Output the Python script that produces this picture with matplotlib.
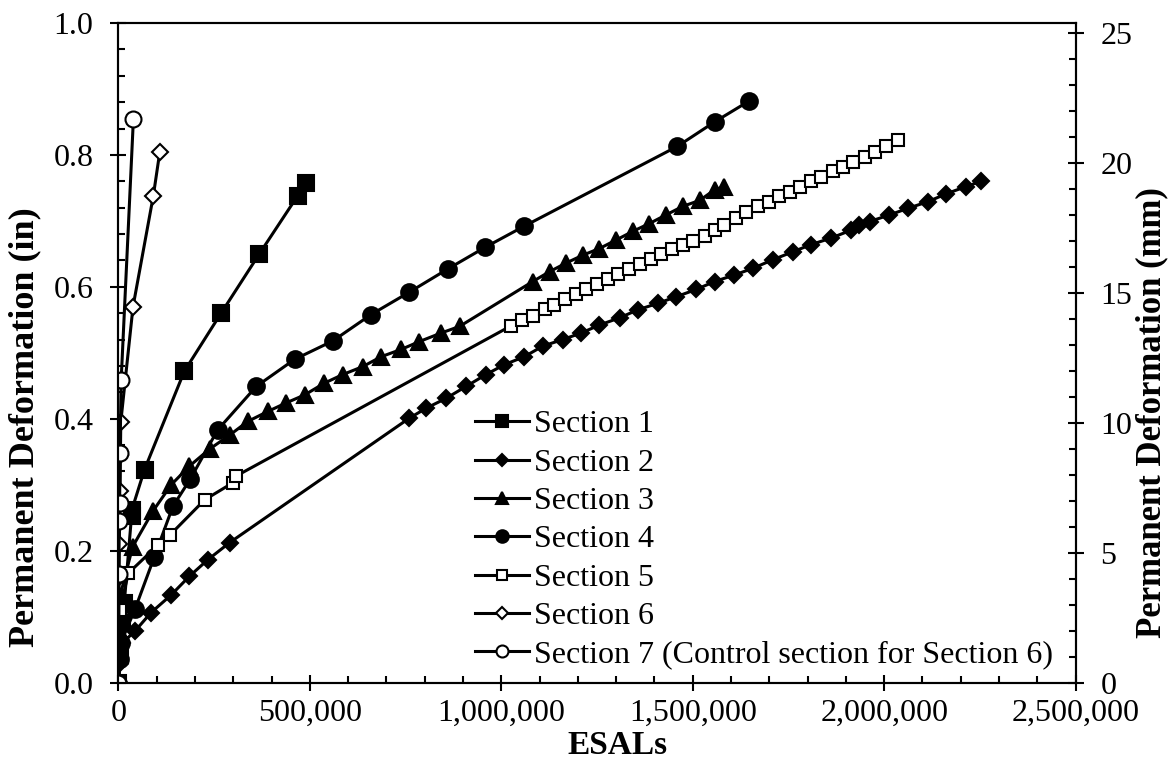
import numpy as np
import matplotlib.pyplot as plt
from matplotlib.ticker import MultipleLocator, FuncFormatter

plt.rcParams['font.family'] = ['Liberation Serif', 'DejaVu Serif']

# ESALs in thousands, deformation in inches
s1_x = [0, 3, 8, 15, 34, 35, 68, 172, 268, 368, 468, 490]
s1_y = [0, 0.05, 0.09, 0.12, 0.252, 0.262, 0.323, 0.472, 0.560, 0.650, 0.738, 0.757]

s2_x = [0, 4, 10, 43, 85, 138, 185, 233, 290,
        760, 804, 856, 908, 960, 1008, 1060, 1108, 1160, 1209, 1256, 1309,
        1356, 1409, 1457, 1509, 1557, 1609, 1657, 1709, 1761, 1809, 1862,
        1914, 1935, 1962, 2014, 2062, 2114, 2162, 2214, 2253]
s2_y = [0, 0.03, 0.06, 0.078, 0.106, 0.133, 0.161, 0.186, 0.212,
        0.401, 0.416, 0.431, 0.449, 0.467, 0.482, 0.494, 0.510, 0.520, 0.530, 0.542, 0.553,
        0.565, 0.575, 0.585, 0.596, 0.608, 0.618, 0.628, 0.641, 0.653, 0.664, 0.674,
        0.686, 0.694, 0.699, 0.709, 0.719, 0.729, 0.741, 0.752, 0.760]

s3_x = [0, 1, 2.5, 4, 37, 90, 138, 185, 238, 290, 338, 390, 438, 486, 538, 586,
        638, 686, 738, 786, 843, 891, 1082, 1126, 1169, 1213, 1256, 1300, 1343,
        1387, 1430, 1474, 1518, 1557, 1583]
s3_y = [0, 0.04, 0.08, 0.131, 0.206, 0.260, 0.300, 0.328, 0.354, 0.375, 0.396, 0.411,
        0.424, 0.436, 0.454, 0.467, 0.479, 0.494, 0.505, 0.517, 0.530, 0.540, 0.608,
        0.623, 0.636, 0.648, 0.658, 0.671, 0.684, 0.696, 0.709, 0.722, 0.731, 0.747, 0.752]

s4_x = [0, 3, 6, 43, 94, 142, 187, 259, 360, 460, 560, 660, 760, 860, 958, 1060,
        1460, 1557, 1648]
s4_y = [0, 0.035, 0.06, 0.111, 0.191, 0.267, 0.308, 0.383, 0.449, 0.490, 0.518,
        0.558, 0.592, 0.627, 0.660, 0.692, 0.813, 0.850, 0.882]

s5_x = [0, 3, 26, 104, 135, 225, 299, 307,
        1026, 1054, 1082, 1113, 1138, 1166, 1194, 1222, 1250, 1278, 1306, 1334,
        1362, 1390, 1418, 1446, 1474, 1502, 1531, 1557, 1583, 1613, 1640, 1670,
        1700, 1726, 1753, 1779, 1809, 1835, 1866, 1892, 1918, 1949, 1975, 2005, 2036]
s5_y = [0, 0.11, 0.166, 0.209, 0.224, 0.277, 0.303, 0.313,
        0.541, 0.549, 0.555, 0.567, 0.573, 0.581, 0.589, 0.597, 0.605, 0.612, 0.620, 0.627,
        0.635, 0.642, 0.650, 0.657, 0.664, 0.670, 0.677, 0.686, 0.694, 0.704, 0.714, 0.722,
        0.729, 0.737, 0.744, 0.752, 0.760, 0.767, 0.775, 0.782, 0.790, 0.797, 0.805, 0.813, 0.822]

s6_x = [0, 1, 2, 3, 4, 5, 6, 38, 91, 108]
s6_y = [0, 0.16, 0.21, 0.245, 0.29, 0.345, 0.395, 0.570, 0.738, 0.805]

s7_x = [0, 1, 2, 3, 4, 7, 39]
s7_y = [0, 0.165, 0.245, 0.272, 0.348, 0.459, 0.855]

labels = ['Section 1', 'Section 2', 'Section 3', 'Section 4', 'Section 5',
          'Section 6', 'Section 7 (Control section for Section 6)']

series = [(s1_x, s1_y, 's', 11, 'k'),
          (s2_x, s2_y, 'D', 8.5, 'k'),
          (s3_x, s3_y, '^', 12, 'k'),
          (s4_x, s4_y, 'o', 12, 'k'),
          (s5_x, s5_y, 's', 9, 'w'),
          (s6_x, s6_y, 'D', 8.5, 'w'),
          (s7_x, s7_y, 'o', 11.5, 'w')]

fig = plt.figure(figsize=(11.72, 7.62), dpi=100)
ax = fig.add_axes([0.1011, 0.1043, 0.8166, 0.8655])

for (x, y, m, ms, fc), lab in zip(series, labels):
    ax.plot(np.array(x) * 1000, y, color='k', lw=2.2, marker=m, ms=ms,
            mfc=fc, mec='k', mew=1.5, label=lab)

ax.set_xlim(0, 2500000)
ax.set_ylim(0, 1.0)
ax.xaxis.set_major_locator(MultipleLocator(500000))
ax.xaxis.set_minor_locator(MultipleLocator(100000))
ax.yaxis.set_major_locator(MultipleLocator(0.2))
ax.yaxis.set_minor_locator(MultipleLocator(0.04))
ax.xaxis.set_major_formatter(FuncFormatter(lambda v, p: f'{int(v):,}'))
ax.yaxis.set_major_formatter(FuncFormatter(lambda v, p: f'{v:.1f}'))

ax.tick_params(which='major', direction='inout', length=12, width=1.5, labelsize=23)
ax.tick_params(which='minor', direction='in', length=5, width=1.5)
ax.tick_params(axis='x', which='major', pad=6)
ax.tick_params(axis='y', which='major', pad=12)
ax.tick_params(top=False, which='both')
for s in ax.spines.values():
    s.set_linewidth(1.5)

ax.set_xlabel('ESALs', fontsize=24, fontweight='bold', va='bottom')
ax.xaxis.set_label_coords(0.521, -0.119)
ax.set_ylabel('Permanent Deformation (in)', fontsize=26, fontweight='bold')
ax.yaxis.set_label_coords(-0.081, 0.387)

ax2 = ax.twinx()
ax2.set_ylim(0, 25.4)
ax2.yaxis.set_major_locator(MultipleLocator(5))
ax2.yaxis.set_minor_locator(MultipleLocator(1))
ax2.tick_params(which='major', direction='inout', length=12, width=1.5, labelsize=23, pad=12)
ax2.tick_params(which='minor', direction='in', length=5, width=1.5)
ax2.set_ylabel('Permanent Deformation (mm)', fontsize=25, fontweight='bold')
ax2.yaxis.set_label_coords(1.062, 0.41)
for s in ax2.spines.values():
    s.set_linewidth(1.5)

ax.legend(loc='lower left', bbox_to_anchor=(0.372, 0.02), frameon=False,
          fontsize=23, numpoints=1, handlelength=1.7, handletextpad=0.15,
          labelspacing=0.28, borderpad=0, borderaxespad=0, markerscale=0.75)

fig.savefig('out.png', dpi=100)
